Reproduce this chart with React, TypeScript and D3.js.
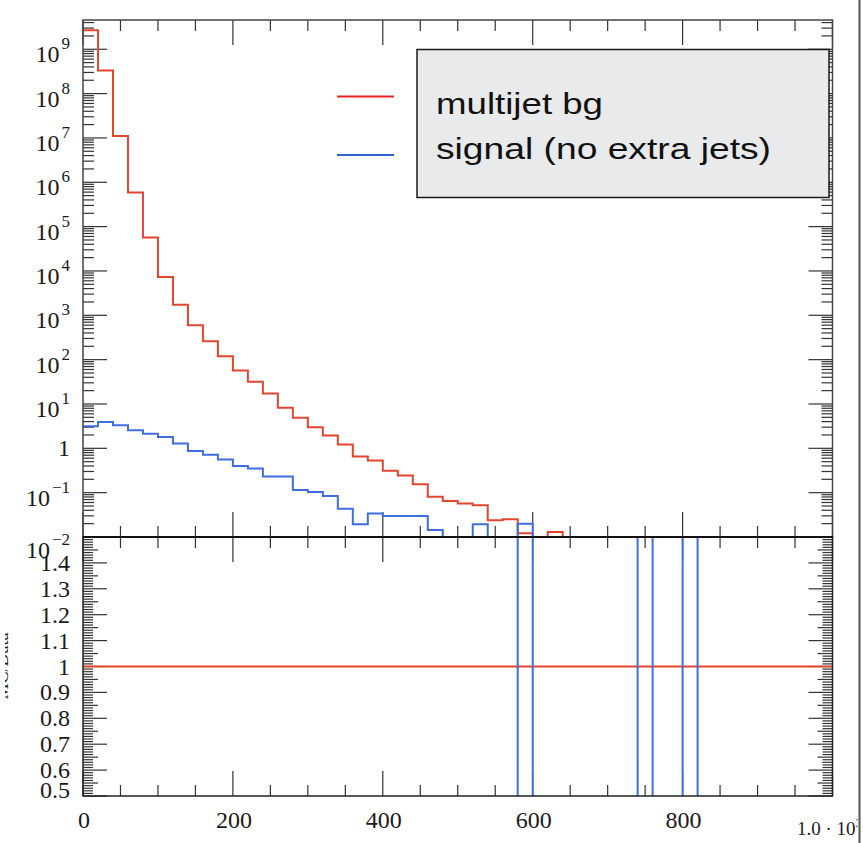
import React from "react";
import * as d3 from "d3";

// ---------- data ----------
const BIN_WIDTH = 20; // GeV per bin
const X_MAX = 1000;

// multijet background (upper panel), bins 0-20 ... 620-640
const bgCounts = [
  2.7e9, 3.3e8, 1.1e7, 5.9e5, 5.7e4, 7.3e3, 1.74e3, 600, 260, 119,
  57, 31.6, 17.2, 8.2, 4.9, 3.0, 1.95, 1.22, 0.65, 0.53,
  0.31, 0.245, 0.154, 0.081, 0.065, 0.057, 0.052, 0.024, 0.025, 0.0121,
  0, 0.013,
];

// signal (no extra jets) (upper panel), bins 0-20 ... 580-600
const signalCounts = [
  3.16, 3.9, 3.33, 2.57, 2.13, 1.79, 1.29, 0.865, 0.72, 0.56,
  0.4, 0.35, 0.23, 0.23, 0.115, 0.103, 0.084, 0.0436, 0.0193, 0.034,
  0.0297, 0.0297, 0.0297, 0.0144, 0, 0, 0.0193, 0, 0, 0.02,
];

// ratio panel, 50 bins 0-20 ... 980-1000
const bgRatio = [
  1, 1, 1, 1, 1, 1, 1, 1, 1, 1,
  1, 1, 1, 1, 1, 1, 1, 1, 1, 1,
  1, 1, 1, 1, 1, 1, 1, 1, 1, 1,
  1, 1, 1, 1, 1, 1, 1, 1, 1, 1,
  1, 1, 1, 1, 1, 1, 1, 1, 1, 1,
];
// off-scale below (~0) except three bins off-scale above
const signalRatio = [
  0, 0, 0, 0, 0, 0, 0, 0, 0, 0,
  0, 0, 0, 0, 0, 0, 0, 0, 0, 0,
  0, 0, 0, 0, 0, 0, 0, 0, 0, 1.65,
  0, 0, 0, 0, 0, 0, 0, 2.0, 0, 0,
  2.0, 0, 0, 0, 0, 0, 0, 0, 0, 0,
];

const xTickLabels = ["0", "200", "400", "600", "800"];
const xTickLabelValues = [0, 200, 400, 600, 800];
const logDecades = [9, 8, 7, 6, 5, 4, 3, 2, 1, 0, -1, -2];
const ratioTickLabels = ["1.4", "1.3", "1.2", "1.1", "1", "0.9", "0.8", "0.7", "0.6", "0.5"];
const ratioTickValues = [1.4, 1.3, 1.2, 1.1, 1.0, 0.9, 0.8, 0.7, 0.6, 0.5];
const legendLabels = ["multijet bg", "signal (no extra jets)"];

// ---------- layout ----------
const W = 863;
const H = 843;
const L = 83;
const R = 832.5;
const T = 20;
const MID = 537;
const B = 796;

const RED = "#e4452e";
const BLUE = "#3f6ee0";
const TICK = "#333";
const SERIF = "'Liberation Serif', 'DejaVu Serif', serif";
const SANS = "'Liberation Sans', Arial, sans-serif";

const x = d3.scaleLinear().domain([0, X_MAX]).range([L, R]);
const yTop = d3.scaleLog().domain([1e-2, Math.pow(10, 9.66)]).range([MID, T]);
const yRat = d3.scaleLinear().domain([0.5, 1.5]).range([B, MID]);

function stepPath(
  values: number[],
  yf: (v: number) => number,
  floorY: number,
  dropAtEnd: boolean
): string {
  const pts: [number, number][] = values.map((v, i) => [x(i * BIN_WIDTH), v > 0 ? yf(v) : floorY]);
  const xEnd = x(values.length * BIN_WIDTH);
  const lastY = pts[pts.length - 1][1];
  pts.push([xEnd, lastY]);
  if (dropAtEnd) pts.push([xEnd, floorY]);
  return d3.line().curve(d3.curveStepAfter)(pts) || "";
}

export default function App() {
  // x ticks every 50
  const xTicks: { v: number; major: boolean }[] = [];
  for (let i = 0; i <= X_MAX / 50; i++) {
    const v = i * 50;
    xTicks.push({ v, major: v % 200 === 0 });
  }
  // log ticks
  const logMajor = logDecades.map((d) => Math.pow(10, d));
  const logMinor: number[] = [];
  for (let d = -2; d <= 9; d++) {
    for (let k = 2; k <= 9; k++) {
      const v = k * Math.pow(10, d);
      if (v < yTop.domain()[1]) logMinor.push(v);
    }
  }
  // ratio ticks every 0.01
  const ratTicks: { v: number; len: number }[] = [];
  for (let i = 50; i <= 150; i++) {
    const len = i % 10 === 0 ? 24 : i % 5 === 0 ? 15 : 10;
    ratTicks.push({ v: i / 100, len });
  }

  const tickLines: React.ReactNode[] = [];
  xTicks.forEach((t, i) => {
    const px = x(t.v);
    const len = t.major ? 25 : 11;
    tickLines.push(<line key={`xt${i}`} x1={px} x2={px} y1={T} y2={T + len} />);
    tickLines.push(<line key={`xm${i}`} x1={px} x2={px} y1={MID} y2={MID - len} />);
    tickLines.push(<line key={`xm2${i}`} x1={px} x2={px} y1={MID} y2={MID + len} />);
    tickLines.push(<line key={`xb${i}`} x1={px} x2={px} y1={B} y2={B - len} />);
  });
  logMajor.forEach((v, i) => {
    const py = yTop(v);
    tickLines.push(<line key={`lM${i}`} x1={L} x2={L + 24} y1={py} y2={py} />);
    tickLines.push(<line key={`rM${i}`} x1={R} x2={R - 24} y1={py} y2={py} />);
  });
  logMinor.forEach((v, i) => {
    const py = yTop(v);
    tickLines.push(<line key={`lm${i}`} x1={L} x2={L + 11} y1={py} y2={py} />);
    tickLines.push(<line key={`rm${i}`} x1={R} x2={R - 11} y1={py} y2={py} />);
  });
  ratTicks.forEach((t, i) => {
    const py = yRat(t.v);
    tickLines.push(<line key={`rl${i}`} x1={L} x2={L + t.len} y1={py} y2={py} />);
    tickLines.push(<line key={`rr${i}`} x1={R} x2={R - t.len} y1={py} y2={py} />);
  });

  return (
    <svg
      width={W}
      height={H}
      viewBox={`0 0 ${W} ${H}`}
      style={{ position: "absolute", left: 0, top: 0, background: "#fff" }}
    >
      <defs>
        <clipPath id="clipTop">
          <rect x={L} y={T} width={R - L} height={MID - T} />
        </clipPath>
        <clipPath id="clipBot">
          <rect x={L} y={MID} width={R - L} height={B - MID} />
        </clipPath>
        <clipPath id="clipTitle">
          <rect x={5} y={0} width={4} height={H} />
        </clipPath>
        <clipPath id="clipPage">
          <rect x={0} y={0} width={858} height={H} />
        </clipPath>
      </defs>
      <rect x={0} y={0} width={W} height={H} fill="#fff" />

      {/* ticks */}
      <g stroke={TICK} strokeWidth={1.2}>{tickLines}</g>

      {/* upper panel histograms */}
      <g clipPath="url(#clipTop)" fill="none" strokeWidth={2}>
        <path d={stepPath(bgCounts, (v) => yTop(v), MID, true)} stroke={RED} />
        <path d={stepPath(signalCounts, (v) => yTop(v), MID, true)} stroke={BLUE} />
      </g>

      {/* ratio panel */}
      <g clipPath="url(#clipBot)" fill="none" strokeWidth={2}>
        <path d={stepPath(bgRatio, (v) => yRat(v), B + 200, false)} stroke={RED} />
        <path d={stepPath(signalRatio, (v) => yRat(v), B + 200, false)} stroke={BLUE} />
      </g>

      {/* frames */}
      <rect x={L} y={T} width={R - L} height={MID - T} fill="none" stroke="#444" strokeWidth={1.5} />
      <rect x={L} y={MID} width={R - L} height={B - MID} fill="none" stroke="#222" strokeWidth={1.5} />
      <line x1={L} x2={R} y1={MID} y2={MID} stroke="#111" strokeWidth={2} />

      {/* labels */}
      <g fontFamily={SERIF} fill="#1a1a1a">
        {logDecades.map((d, i) => {
          const py = yTop(Math.pow(10, d));
          if (d === 0) {
            return (
              <text key={`yl${i}`} x={70} y={py + 8} fontSize={24} textAnchor="end">
                1
              </text>
            );
          }
          const base = d === -2 ? py + 21 : py + 13;
          const sup = d < 0 ? `\u2212${-d}` : `${d}`;
          return (
            <text key={`yl${i}`} x={70} y={base} fontSize={24} textAnchor="end">
              <tspan>10</tspan>
              <tspan dx={2} dy={-13} fontSize={17}>
                {sup}
              </tspan>
            </text>
          );
        })}
        {ratioTickLabels.map((s, i) => {
          const py = yRat(ratioTickValues[i]);
          const off = ratioTickValues[i] === 0.5 ? 2 : 8;
          return (
            <text key={`rl${i}`} x={70} y={py + off} fontSize={24} textAnchor="end">
              {s}
            </text>
          );
        })}
        {xTickLabels.map((s, i) => (
          <text key={`xl${i}`} x={x(xTickLabelValues[i]) + 1} y={828} fontSize={24} textAnchor="middle">
            {s}
          </text>
        ))}
        <g clipPath="url(#clipPage)">
          <text x={797} y={835} fontSize={19}>
            <tspan>1.0 · 10</tspan>
            <tspan dy={-8} fontSize={13}>3</tspan>
          </text>
        </g>
        <g clipPath="url(#clipTitle)">
          <text transform={`translate(8,666) rotate(-90)`} fontSize={18} textAnchor="middle">
            MC/Data
          </text>
        </g>
      </g>

      {/* page edge line */}
      <line x1={859.5} x2={859.5} y1={0} y2={H} stroke="#555" strokeWidth={2} />

      {/* legend */}
      <g>
        <line x1={337} x2={394} y1={96.5} y2={96.5} stroke="#f02020" strokeWidth={2} />
        <line x1={337} x2={394} y1={155} y2={155} stroke="#2f62cf" strokeWidth={2} />
        <rect x={417} y={49.5} width={412} height={148} fill="#e8eaeb" stroke="#1a1a1a" strokeWidth={1.5} />
        <text x={436} y={114} fontFamily={SANS} fontSize={30} fill="#111" textLength={167} lengthAdjust="spacingAndGlyphs">
          {legendLabels[0]}
        </text>
        <text x={436} y={159} fontFamily={SANS} fontSize={30} fill="#111" textLength={335} lengthAdjust="spacingAndGlyphs">
          {legendLabels[1]}
        </text>
      </g>
    </svg>
  );
}
